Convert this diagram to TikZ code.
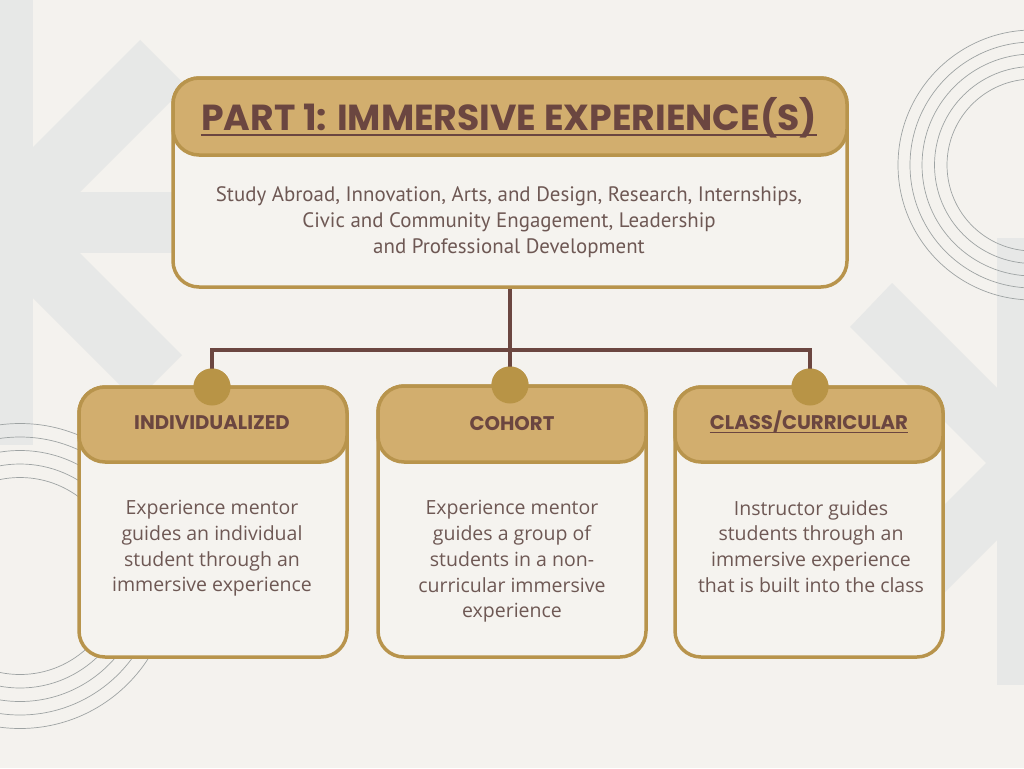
\documentclass[tikz,border=0pt]{standalone}
\usepackage{fontspec}
\setmainfont{Open Sans}
\newfontfamily\popfont{Poppins}
\newfontfamily\ptfont{PT Sans}
\definecolor{bg}{HTML}{F4F2EE}
\definecolor{deco}{HTML}{E7E8E7}
\definecolor{gold}{HTML}{D2AE6E}
\definecolor{goldline}{HTML}{B8944C}
\definecolor{dotc}{HTML}{B89446}
\definecolor{brownt}{HTML}{6B4640}
\definecolor{bodyt}{HTML}{6E5854}
\definecolor{arcc}{HTML}{9EA3A3}
\definecolor{boxfill}{HTML}{F5F3EF}
\tikzset{
  bodybox/.style={draw=goldline, line width=3.5pt, fill=boxfill, rounded corners=26pt, inner sep=0pt},
  headbox/.style={draw=goldline, line width=3.5pt, fill=gold, rounded corners=26pt, inner sep=0pt},
  dotnode/.style={circle, fill=dotc, minimum size=37pt, inner sep=0pt},
  conn/.style={draw=brownt, line width=3.2pt},
  titlestyle/.style={text=brownt, inner sep=0pt, font=\popfont\bfseries\fontsize{36.2}{40}\selectfont},
  labstyle/.style={text=brownt, inner sep=0pt, font=\popfont\bfseries\fontsize{19.7}{22}\selectfont},
  toptext/.style={text=bodyt, align=center, inner sep=0pt, font=\ptfont\fontsize{20.9}{26}\selectfont},
  btext/.style={text=bodyt, align=center, inner sep=0pt, font=\fontsize{19.5}{25.7}\selectfont},
  uline/.style={draw=brownt, line width=2.6pt},
  ulinesm/.style={draw=brownt, line width=1.6pt},
  arcline/.style={draw=arcc, line width=0.7pt}
}
\begin{document}
\begin{tikzpicture}[x=1pt,y=-1pt]
\useasboundingbox (0,0) rectangle (1024,768);
\fill[bg] (0,0) rectangle (1024,768);
\begin{scope}
\clip (0,0) rectangle (1024,768);
% left K
\fill[deco] (0,0) rectangle (33,445);
\fill[deco] (33,192) rectangle (178,253);
\fill[deco] (33,147) -- (140,40) -- (186,86) -- (80,192) -- (33,192) -- cycle;
\fill[deco] (33,253) -- (80,253) -- (182,355) -- (136,401) -- (33,298) -- cycle;
% right K
\fill[deco] (997,238) rectangle (1024,685);
\fill[deco] (850,327) -- (892,283) -- (997,388) -- (997,474) -- cycle;
\fill[deco] (997,452) -- (997,540) -- (900,637) -- (900,549) -- cycle;
% arcs
\foreach \r in {86,98.5,111,123,135} \draw[arcline] (1033,165) circle[radius=\r pt];
\foreach \r in {98.5,112,125.5,139,152.5} \draw[arcline] (20,576) circle[radius=\r pt];
\end{scope}
% connectors
\coordinate (j) at (510,350);
\node[dotnode] (c1) at (212,387) {};
\node[dotnode] (c2) at (510,385) {};
\node[dotnode] (c3) at (810,387) {};
\draw[conn] (c1.center) |- (j) -| (c3.center);
\draw[conn] (j) -- (c2.center);
% top box
\node[bodybox, minimum width=674pt, minimum height=209pt] (topbody) at (510,182.5) {};
\draw[conn] (topbody.south) -- (j);
\node[headbox, minimum width=674pt, minimum height=77pt] (tophead) at (510,116.5) {};
\node[titlestyle, anchor=base] (title) at (509,130.5) {PART 1: IMMERSIVE EXPERIENCE(S)};
\draw[uline] ([yshift=-4.5pt]title.base west) -- ([yshift=-4.5pt]title.base east);
\node[toptext] (toptxt) at (509,222.5) {Study Abroad, Innovation, Arts, and Design, Research, Internships,\\Civic and Community Engagement, Leadership\\and Professional Development};
% bottom boxes
\node[bodybox, minimum width=268pt, minimum height=270pt] (b1) at (213,522) {};
\node[headbox, minimum width=268pt, minimum height=75pt] (h1) at (213,424.5) {};
\node[bodybox, minimum width=268pt, minimum height=271pt] (b2) at (512,521.5) {};
\node[headbox, minimum width=268pt, minimum height=76pt] (h2) at (512,424) {};
\node[bodybox, minimum width=268pt, minimum height=270pt] (b3) at (809,522) {};
\node[headbox, minimum width=268pt, minimum height=75pt] (h3) at (809,424.5) {};
% dots on top
\fill[dotc] (c1) circle[radius=18.5pt];
\fill[dotc] (c2) circle[radius=18.5pt];
\fill[dotc] (c3) circle[radius=18.5pt];
% labels
\node[labstyle, anchor=base] (l1) at (212,429) {INDIVIDUALIZED};
\node[labstyle, anchor=base] (l2) at (512,430) {COHORT};
\node[labstyle, anchor=base] (l3) at (809,429) {CLASS/CURRICULAR};
\draw[ulinesm] ([yshift=-3.5pt]l3.base west) -- ([yshift=-3.5pt]l3.base east);
% body texts
\node[btext] (t1) at (212,548.5) {Experience mentor\\guides an individual\\student through an\\immersive experience};
\node[btext] (t2) at (512,561.5) {Experience mentor\\guides a group of\\students in a non-\\curricular immersive\\experience};
\node[btext] (t3) at (811,546.5) {Instructor guides\\students through an\\immersive experience\\that is built into the class};
\end{tikzpicture}
\end{document}
